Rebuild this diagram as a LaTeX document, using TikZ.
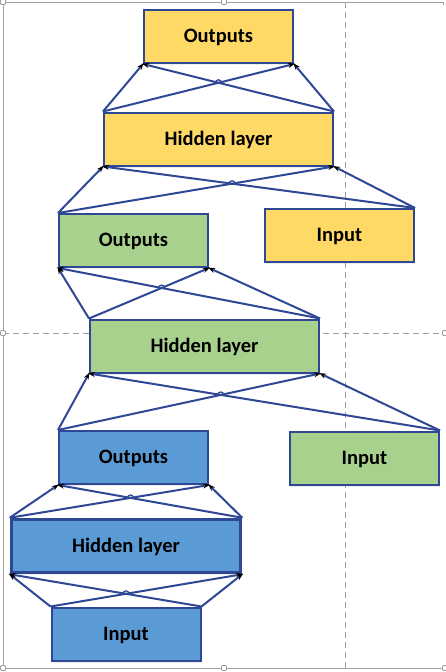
\documentclass[tikz,border=0pt]{standalone}
\usepackage{fontspec}
\setmainfont{Carlito}
\usetikzlibrary{arrows.meta,shadows}
\definecolor{edgeblue}{RGB}{47,72,150}
\definecolor{ylw}{RGB}{255,217,102}
\definecolor{grn}{RGB}{169,209,142}
\definecolor{blu}{RGB}{91,155,213}
\definecolor{frame}{RGB}{160,160,160}
\tikzset{
  layer/.style={draw=edgeblue, line width=2pt, minimum width=149pt, minimum height=53pt,
    inner sep=0pt, text height=16pt, text depth=4pt,
    font=\fontsize{20.5}{24}\selectfont\bfseries,
    drop shadow={opacity=0.12, shadow xshift=1pt, shadow yshift=-2pt}},
  wide/.style={layer, minimum width=229pt},
  conn/.style={draw=edgeblue, line width=2pt, -{Stealth[length=7pt,width=5pt,black]}, shorten >=-1pt},
  hop/.style={draw=edgeblue, line width=1.2pt},
  handle/.style={draw=frame, fill=white, line width=0.8pt, rounded corners=1pt, minimum size=5pt, inner sep=0pt},
}
% small jump drawn where two crossing connectors meet
\newcommand{\hopat}[4]{%
  \path (intersection of #1--#2 and #3--#4) coordinate (hp);
  \draw[hop] ([xshift=-3pt]hp) arc (180:0:3pt);}
\begin{document}
\begin{tikzpicture}[x=1pt,y=-1pt]
\useasboundingbox (0,0) rectangle (445,672);
\fill[white] (0,0) rectangle (445,672);
% guides and frame
\draw[frame, line width=0.8pt, dash pattern=on 6pt off 4pt] (345,2) -- (345,668);
\draw[frame, line width=0.8pt, dash pattern=on 6pt off 4pt] (3,333) -- (445,333);
\draw[frame, line width=0.9pt] (3,668) -- (3,2) -- (443,2) -- (443,5);
\draw[frame, line width=0.9pt] (3,668) -- (445,668);

% boxes
\node[layer, fill=ylw] (yo) at (218.5,36.5) {Outputs};
\node[wide,  fill=ylw] (yh) at (218.5,139) {Hidden layer};
\node[layer, fill=grn] (go) at (133.5,240.5) {Outputs};
\node[layer, fill=ylw] (yi) at (339.5,235.5) {Input};
\node[wide,  fill=grn] (gh) at (204.5,346) {Hidden layer};
\node[layer, fill=grn] (gi) at (364.5,458) {Input};
\node[layer, fill=blu] (bo) at (133.5,457.5) {Outputs};
\node[wide,  fill=blu, line width=3.5pt] (bh) at (126,546) {Hidden layer};
\node[layer, fill=blu] (bi) at (126,634) {Input};

% blue level: input -> hidden
\draw[conn] (bi.north west) -- (bh.south west);
\draw[conn] (bi.north west) -- (bh.south east);
\draw[conn] (bi.north east) -- (bh.south west);
\draw[conn] (bi.north east) -- (bh.south east);
\hopat{bi.north west}{bh.south east}{bi.north east}{bh.south west}
% blue hidden -> outputs
\draw[conn] (bh.north west) -- (bo.south west);
\draw[conn] (bh.north west) -- (bo.south east);
\draw[conn] (bh.north east) -- (bo.south west);
\draw[conn] (bh.north east) -- (bo.south east);
\hopat{bh.north west}{bo.south east}{bh.north east}{bo.south west}
% blue outputs + green input -> green hidden
\draw[conn] (bo.north west) -- (gh.south west);
\draw[conn] (bo.north west) -- (gh.south east);
\draw[conn] (gi.north east) -- (gh.south west);
\draw[conn] (gi.north east) -- (gh.south east);
\hopat{bo.north west}{gh.south east}{gi.north east}{gh.south west}
% green hidden -> outputs
\draw[conn] (gh.north west) -- (go.south west);
\draw[conn] (gh.north west) -- (go.south east);
\draw[conn] (gh.north east) -- (go.south west);
\draw[conn] (gh.north east) -- (go.south east);
\hopat{gh.north west}{go.south east}{gh.north east}{go.south west}
% green outputs + yellow input -> yellow hidden
\draw[conn] (go.north west) -- (yh.south west);
\draw[conn] (go.north west) -- (yh.south east);
\draw[conn] (yi.north east) -- (yh.south west);
\draw[conn] (yi.north east) -- (yh.south east);
\hopat{go.north west}{yh.south east}{yi.north east}{yh.south west}
% yellow hidden -> outputs
\draw[conn] (yh.north west) -- (yo.south west);
\draw[conn] (yh.north west) -- (yo.south east);
\draw[conn] (yh.north east) -- (yo.south west);
\draw[conn] (yh.north east) -- (yo.south east);
\hopat{yh.north west}{yo.south east}{yh.north east}{yo.south west}

% selection handles
\node[handle] (h1) at (3,2) {};
\node[handle] (h2) at (224,2) {};
\node[handle] (h3) at (3,333) {};
\node[handle] (h4) at (445,333) {};
\node[handle] (h5) at (3,668) {};
\node[handle] (h6) at (224,668) {};
\node[handle] (h7) at (445,668) {};
\end{tikzpicture}
\end{document}
